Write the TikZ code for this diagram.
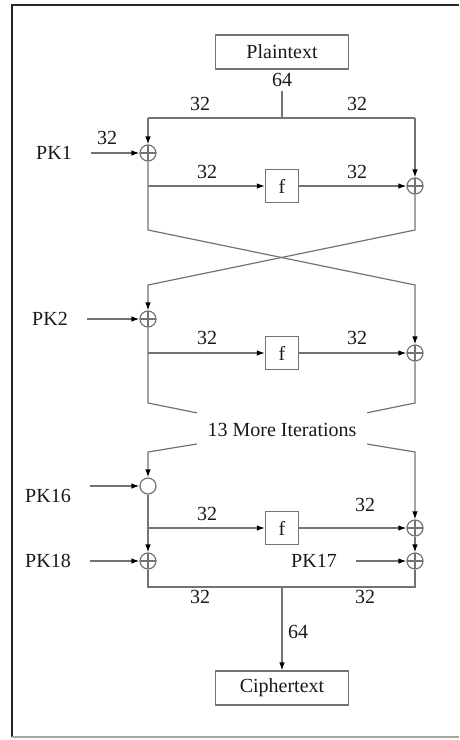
\documentclass[tikz,border=0pt]{standalone}
\usepackage{fontspec}
\setmainfont{Liberation Serif}
\usetikzlibrary{arrows.meta}
\begin{document}
\begin{tikzpicture}[x=10pt, y=-10pt, font=\fontsize{20}{22}\selectfont]
  \tikzstyle{box} = [rectangle, draw=black!55, line width=1.2pt, text=black!90, minimum width=133pt, minimum height=34pt, inner sep=0pt]
  \tikzstyle{fbox} = [rectangle, draw=black!55, line width=1.2pt, text=black!90, minimum size=33pt, inner sep=0pt]
  \tikzstyle{xor} = [circle, draw=black!55, line width=1.2pt, minimum size=16pt, inner sep=0pt, path picture={\draw[black!55, line width=1.2pt] (path picture bounding box.north) -- (path picture bounding box.south) (path picture bounding box.west) -- (path picture bounding box.east);}]
  \tikzstyle{xnode} = [circle, draw=black!55, line width=1.2pt, minimum size=16pt, inner sep=0pt]
  \tikzstyle{num} = [text=black!90, inner sep=4pt]
  \tikzstyle{pklabel} = [text=black!90, inner sep=0pt, anchor=east]
  \tikzstyle{wire} = [draw=black!55, line width=1.2pt]
  \tikzstyle{arrow} = [wire, -{Latex[length=8pt, width=5.5pt, black]}]
  \tikzstyle{keyarrow} = [arrow, shorten <=19pt]

  % Frame
  \useasboundingbox (0,0) rectangle (45.9,74);
  \draw [black!85, line width=2.5pt] (1.2,73.7) -- (1.2,0.5) -- (45.9,0.5);
  \draw [black!35, line width=2pt] (1.2,73.7) -- (45.9,73.7);

  % Round 1
  \node [box] (plain) at (28.2,5.2) {Plaintext};
  \node [num] (in64) at (28.2,8.0) {64};
  \coordinate (ts) at (28.2,11.8);
  \coordinate (tl) at (14.8,11.8);
  \coordinate (tr) at (41.5,11.8);
  \node [xor] (xl1) at (14.8,15.3) {};
  \node [pklabel] (pk1) at (7.2,15.3) {PK1};
  \coordinate (cl1) at (14.8,18.6);
  \node [fbox] (f1) at (28.2,18.6) {f};
  \node [xor] (xr1) at (41.5,18.6) {};
  \coordinate (dl1) at (14.8,23.0);
  \coordinate (dr1) at (41.5,23.0);

  % Round 2
  \coordinate (ul2) at (14.8,28.5);
  \coordinate (ur2) at (41.5,28.5);
  \node [xor] (xl2) at (14.8,31.9) {};
  \node [pklabel] (pk2) at (6.8,31.9) {PK2};
  \coordinate (cl2) at (14.8,35.3);
  \node [fbox] (f2) at (28.2,35.3) {f};
  \node [xor] (xr2) at (41.5,35.3) {};
  \coordinate (dl2) at (14.8,40.3);
  \coordinate (dr2) at (41.5,40.3);
  \node [num, minimum width=170pt, minimum height=40pt] (iter) at (28.2,43.0) {13 More Iterations};

  % Round 16
  \coordinate (ul3) at (14.8,45.2);
  \coordinate (ur3) at (41.5,45.2);
  \node [xnode] (xl3) at (14.8,48.6) {};
  \node [pklabel] (pk16) at (7.1,49.6) {PK16};
  \coordinate (cl3) at (14.8,52.8);
  \node [fbox] (f3) at (28.2,52.8) {f};
  \node [xor] (xr3) at (41.5,52.8) {};
  \node [xor] (xl4) at (14.8,56.1) {};
  \node [pklabel] (pk18) at (7.1,56.1) {PK18};
  \node [xor] (xr4) at (41.5,56.1) {};
  \node [pklabel] (pk17) at (33.7,56.1) {PK17};

  % Output
  \coordinate (bl) at (14.8,58.7);
  \coordinate (br) at (41.5,58.7);
  \coordinate (bs) at (28.2,58.7);
  \node [box] (cipher) at (28.2,68.8) {Ciphertext};

  % Bit widths
  \node [num] (w1) at (20.0,10.4) {32};
  \node [num] (w2) at (35.7,10.4) {32};
  \node [num] (w3) at (10.7,13.8) {32};
  \node [num] (w4) at (20.7,17.2) {32};
  \node [num] (w5) at (35.7,17.2) {32};
  \node [num] (w6) at (20.7,33.8) {32};
  \node [num] (w7) at (35.7,33.8) {32};
  \node [num] (w8) at (20.7,51.4) {32};
  \node [num] (w9) at (36.5,50.5) {32};
  \node [num] (w10) at (20.0,59.7) {32};
  \node [num] (w11) at (36.5,59.7) {32};
  \node [num] (out64) at (29.8,63.2) {64};

  % Arrows
  \draw [wire] (in64) -- (ts);
  \draw [wire] (tl) -- (tr);
  \draw [arrow] (tl) -- (xl1);
  \draw [arrow] (tr) -- (xr1);
  \draw [keyarrow] (pk1) -- (xl1);
  \draw [arrow] (cl1) -- (f1);
  \draw [arrow] (f1) -- (xr1);
  \draw [arrow] (xl1) -- (dl1) -- (ur2) -- (xr2);
  \draw [arrow] (xr1) -- (dr1) -- (ul2) -- (xl2);

  \draw [keyarrow] (pk2) -- (xl2);
  \draw [arrow] (cl2) -- (f2);
  \draw [arrow] (f2) -- (xr2);
  \draw [wire] (xl2) -- (dl2) -- (iter);
  \draw [wire] (xr2) -- (dr2) -- (iter);
  \draw [arrow] (iter) -- (ul3) -- (xl3);
  \draw [arrow] (iter) -- (ur3) -- (xr3);

  \draw [keyarrow] (pk16.east |- xl3) -- (xl3);
  \draw [arrow] (xl3) -- (xl4);
  \draw [arrow] (cl3) -- (f3);
  \draw [arrow] (f3) -- (xr3);
  \draw [arrow] (xr3) -- (xr4);
  \draw [keyarrow] (pk18) -- (xl4);
  \draw [keyarrow] (pk17) -- (xr4);
  \draw [wire] (xl4) -- (bl) -- (br) -- (xr4);
  \draw [arrow] (bs) -- (cipher);

\end{tikzpicture}
\end{document}
